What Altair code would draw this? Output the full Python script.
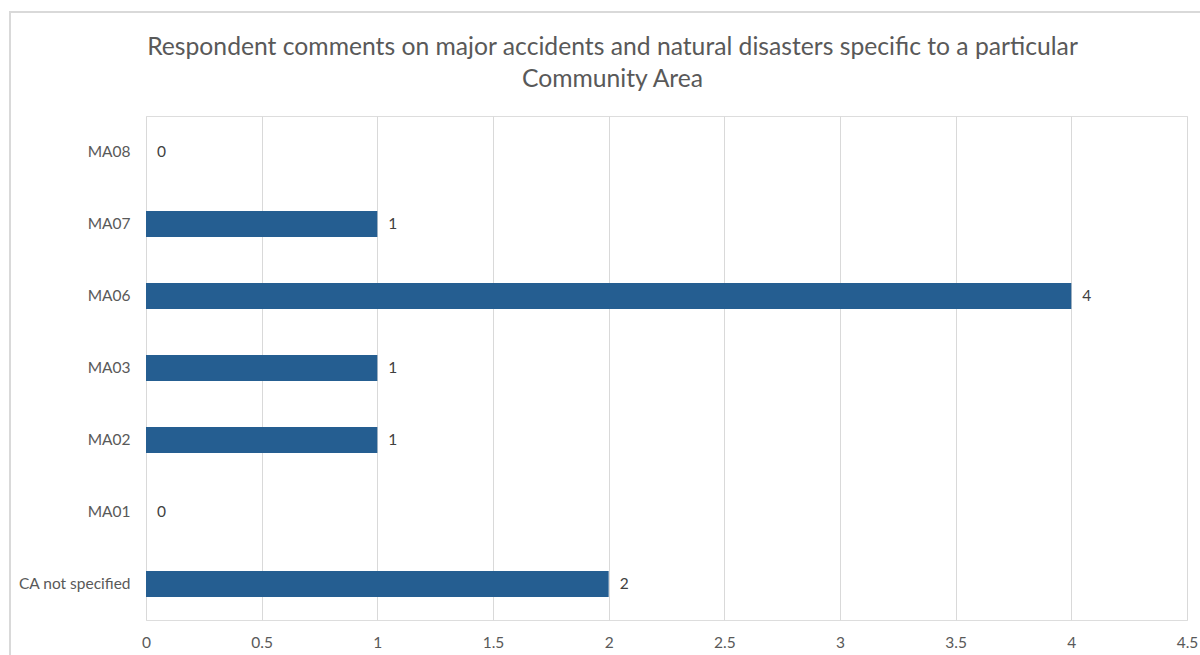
import altair as alt
import pandas as pd

areas = ["MA08", "MA07", "MA06", "MA03", "MA02", "MA01", "CA not specified"]
comments = [0, 1, 4, 1, 1, 0, 2]
x_ticks = [0, 0.5, 1, 1.5, 2, 2.5, 3, 3.5, 4, 4.5]

df = pd.DataFrame({"area": areas, "comments": comments})

FONT = "Lato"
GREY = "#595959"

base = alt.Chart(df)

bars = base.mark_bar(color="#255e91", size=26).encode(
    x=alt.X(
        "comments:Q",
        scale=alt.Scale(domain=[0, 4.5], nice=False),
        axis=alt.Axis(
            values=x_ticks,
            format="~g",
            title=None,
            domain=False,
            ticks=False,
            grid=True,
            gridColor="#d9d9d9",
            labelColor=GREY,
            labelFont=FONT,
            labelFontSize=15.5,
            labelPadding=15,
            labelFlush=False,
        ),
    ),
    y=alt.Y(
        "area:N",
        sort=areas,
        axis=alt.Axis(
            title=None,
            domain=False,
            ticks=False,
            labelColor=GREY,
            labelFont=FONT,
            labelFontSize=15.5,
            labelPadding=16,
        ),
    ),
)

labels = base.mark_text(
    align="left", baseline="middle", dx=11, font=FONT, fontSize=15.5, color="#404040"
).encode(
    x="comments:Q",
    y=alt.Y("area:N", sort=areas),
    text="comments:Q",
)

# light outer border around the whole chart
frame = alt.Chart(df).mark_rect(
    fill=None, stroke="#d9d9d9", strokeWidth=1.5
).encode(
    x=alt.value(-136), x2=alt.value(1200), y=alt.value(-104), y2=alt.value(700)
)

chart = (
    alt.layer(frame, bars, labels)
    .properties(
        width=1041,
        height=504,
        title=alt.TitleParams(
            text=[
                "Respondent comments on major accidents and natural disasters specific to a particular",
                "Community Area",
            ],
            font=FONT,
            fontSize=24.7,
            fontWeight="normal",
            color=GREY,
            lineHeight=32,
            anchor="middle",
            dx=-54,
            offset=-80,
        ),
        autosize=alt.AutoSizeParams(type="none"),
        padding={"left": 146, "top": 116, "right": 13, "bottom": 35},
    )
    .configure_view(stroke=None)
    .configure(background="white")
)

chart.save("out.html", embed_options={"renderer": "svg", "actions": False})
